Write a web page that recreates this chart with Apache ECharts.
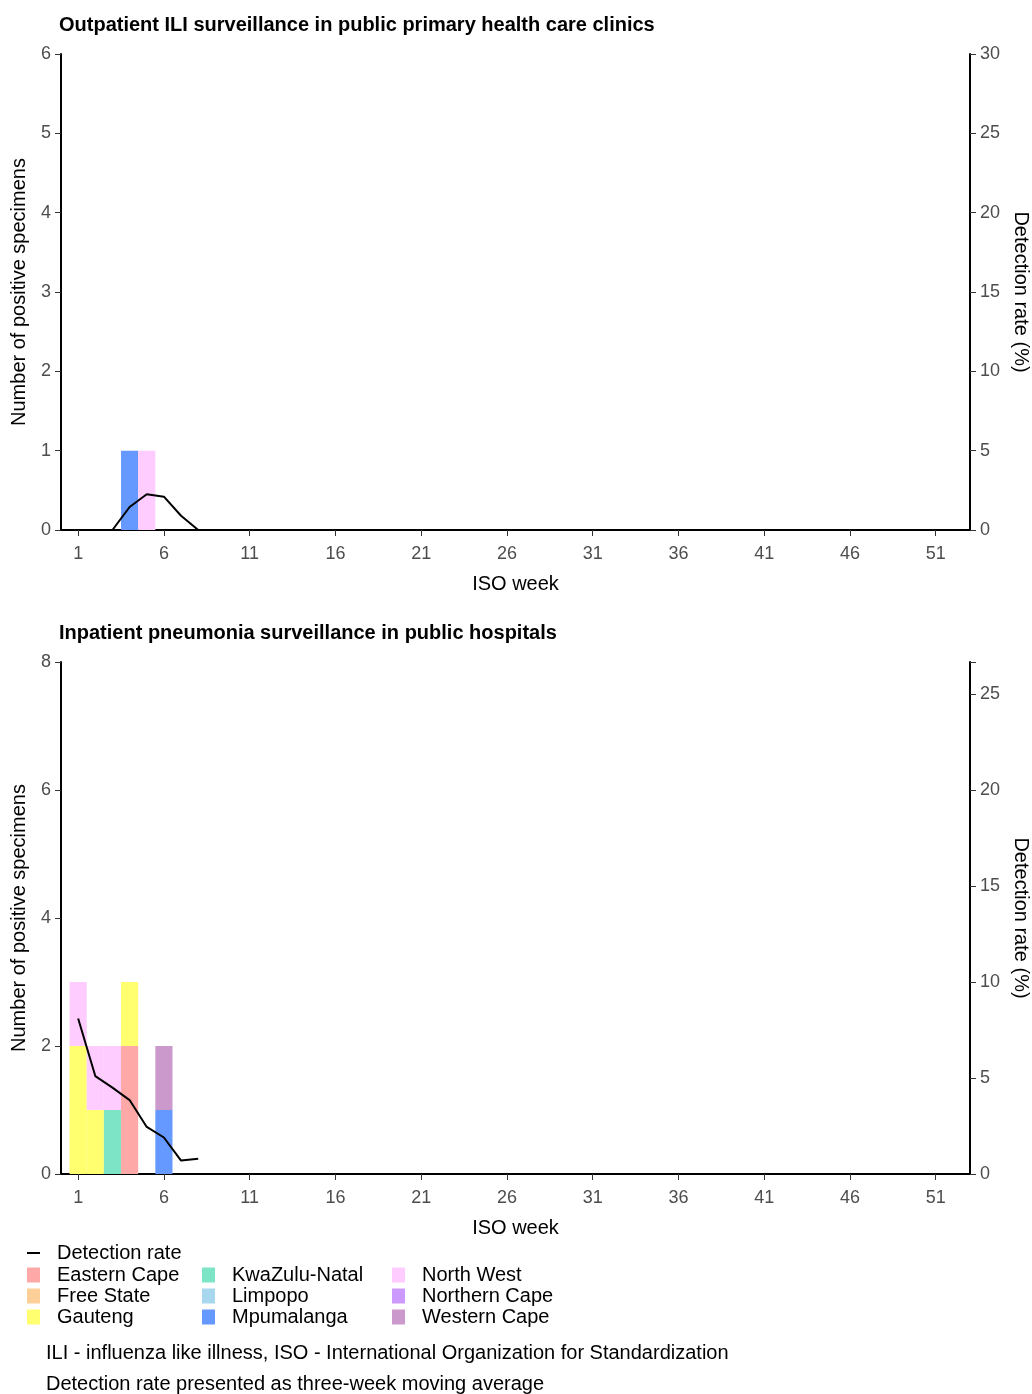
<!DOCTYPE html>
<html>
<head>
<meta charset="utf-8">
<script src="https://cdn.jsdelivr.net/npm/echarts@6/dist/echarts.min.js"></script>
<style>
body{margin:0;background:#fff;}
#chart{width:1032px;height:1394px;}
</style>
</head>
<body>
<div id="chart"></div>
<script>
// weeks 0..53 on the x axis, labels every 5 weeks from 1
var weeks = [];
for (var w = 0; w <= 53; w++) weeks.push(w);
var weekLabels = ['1','6','11','16','21','26','31','36','41','46','51'];

var provinces = ['Eastern Cape','Free State','Gauteng','KwaZulu-Natal','Limpopo','Mpumalanga','North West','Northern Cape','Western Cape'];
var provColors = ['#FFA8A8','#FFCF99','#FFFF70','#7DE5C6','#A8D8F0','#6699FF','#FFCCFF','#CC99FF','#CC99CC'];

// [week, count] per province
var outpatient = {
  'Mpumalanga': [[4,1]],
  'North West': [[5,1]]
};
var inpatient = {
  'Eastern Cape': [[4,2]],
  'Gauteng': [[1,2],[2,1],[4,1]],
  'KwaZulu-Natal': [[3,1]],
  'Mpumalanga': [[6,1]],
  'North West': [[1,1],[2,1],[3,1]],
  'Western Cape': [[6,1]]
};
// detection rate (%) three-week moving average
var outRate = [[3,0],[4,1.45],[5,2.25],[6,2.1],[7,0.9],[8,0]];
var inRate = [[1,8.1],[2,5.1],[3,4.5],[4,3.85],[5,2.45],[6,1.9],[7,0.7],[8,0.8]];

var F = 'Liberation Sans, Arial, sans-serif';
var tc = '#4d4d4d';

function xAxis(gi){
  return {
    type:'category', gridIndex:gi, data:weeks, boundaryGap:false,
    name:'ISO week', nameLocation:'middle', nameGap:44,
    nameTextStyle:{fontFamily:F,fontSize:20,color:'#000'},
    axisLine:{lineStyle:{color:'#000',width:2}},
    axisTick:{length:6,lineStyle:{color:'#333'},interval:function(i,v){return weekLabels.indexOf(String(v))>=0;}},
    axisLabel:{fontFamily:F,fontSize:18,color:tc,margin:15,interval:function(i,v){return weekLabels.indexOf(String(v))>=0;}},
    splitLine:{show:false}
  };
}
function yAxis(gi,max,interval,right){
  return {
    type:'value', gridIndex:gi, min:0, max:max, interval:interval,
    position: right?'right':'left',
    name: right?'Detection rate (%)':'Number of positive specimens',
    nameLocation:'middle', nameGap:right?38:32, nameRotate:right?-90:90,
    nameTextStyle:{fontFamily:F,fontSize:20,color:'#000'},
    axisLine:{show:true,lineStyle:{color:'#000',width:2}},
    axisTick:{show:true,length:6,lineStyle:{color:'#333'}},
    axisLabel:{fontFamily:F,fontSize:18,color:tc,margin:10,
      formatter:function(v){return (Math.abs(v-Math.round(v))>1e-6)?'':String(v);}},
    splitLine:{show:false}
  };
}

var series = [];
[outpatient, inpatient].forEach(function(src, gi){
  provinces.forEach(function(p, k){
    series.push({
      name:p, type:'bar', xAxisIndex:gi, yAxisIndex:gi*2, stack:'s'+gi,
      barWidth:'100%', itemStyle:{color:provColors[k]},
      data:(src[p]||[])
    });
  });
});
series.push({name:'Detection rate',type:'line',xAxisIndex:0,yAxisIndex:1,data:outRate,symbol:'none',lineStyle:{color:'#000',width:2},itemStyle:{color:'#000'}});
series.push({name:'Detection rate',type:'line',xAxisIndex:1,yAxisIndex:3,data:inRate,symbol:'none',lineStyle:{color:'#000',width:2},itemStyle:{color:'#000'}});

function legend(names, left, top){
  return {
    data:names.map(function(n){return {name:n,icon:'rect'};}),
    orient:'vertical', left:left, top:top, itemGap:1,
    itemWidth:13, itemHeight:15, selectedMode:false,
    textStyle:{fontFamily:F,fontSize:20,color:'#000',padding:[0,0,0,12]}
  };
}

var option = {
  animation:false,
  title:[
    {text:'Outpatient ILI surveillance in public primary health care clinics',left:54,top:10,textStyle:{fontFamily:F,fontSize:20,fontWeight:'bold',color:'#000'}},
    {text:'Inpatient pneumonia surveillance in public hospitals',left:54,top:618,textStyle:{fontFamily:F,fontSize:20,fontWeight:'bold',color:'#000'}}
  ],
  grid:[
    {left:61,right:62,top:54,height:476,outerBoundsMode:'none'},
    {left:61,right:62,top:662,height:512,outerBoundsMode:'none'}
  ],
  xAxis:[xAxis(0),xAxis(1)],
  yAxis:[yAxis(0,6,1,false),yAxis(0,30,5,true),yAxis(1,8,2,false),yAxis(1,80/3,5,true)],
  legend:[
    {data:[{name:'Detection rate',icon:'rect',itemStyle:{color:'#000'}}],left:22,top:1238,itemWidth:13,itemHeight:2,selectedMode:false,
      textStyle:{fontFamily:F,fontSize:20,color:'#000',padding:[0,0,0,12]}},
    legend(provinces.slice(0,3),22,1260),
    legend(provinces.slice(3,6),197,1260),
    legend(provinces.slice(6,9),387,1260)
  ],
  graphic:[
    {type:'text',left:46,top:1343,style:{text:'ILI - influenza like illness, ISO - International Organization for Standardization',font:'20px Liberation Sans',fill:'#000'}},
    {type:'text',left:46,top:1374,style:{text:'Detection rate presented as three-week moving average',font:'20px Liberation Sans',fill:'#000'}}
  ],
  series:series
};
echarts.init(document.getElementById('chart')).setOption(option);
</script>
</body>
</html>
